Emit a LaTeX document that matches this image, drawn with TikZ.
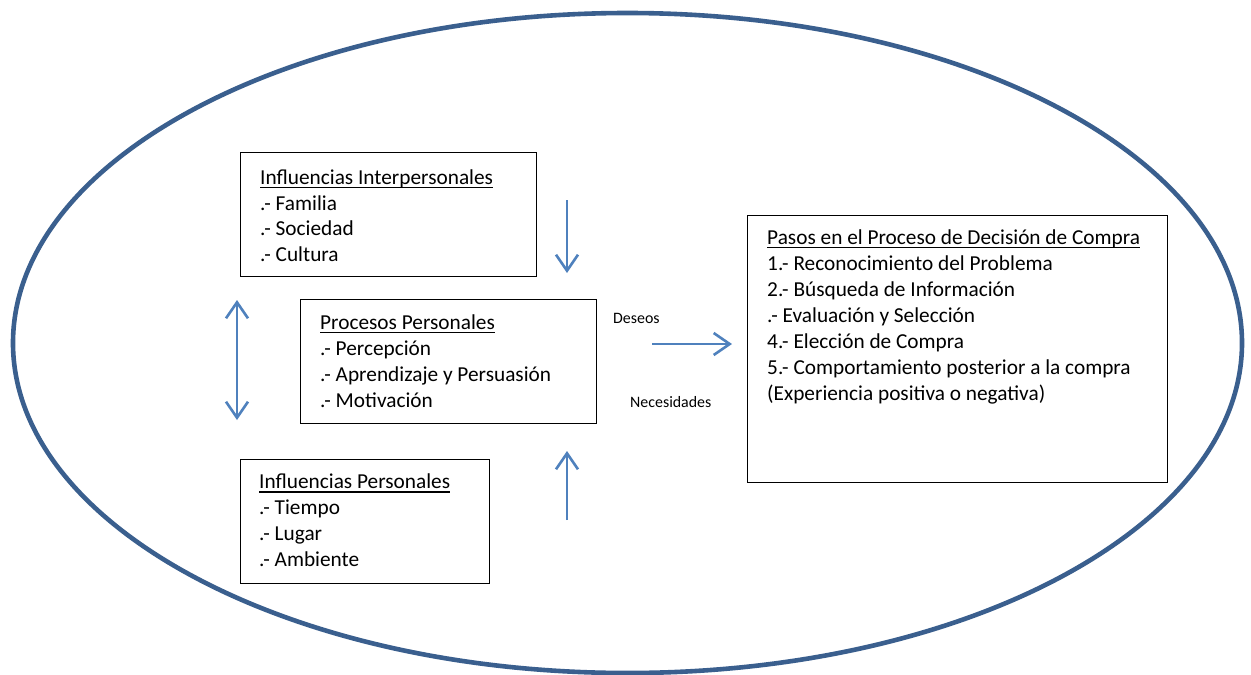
\documentclass[tikz,border=0pt]{standalone}
\usepackage{fontspec}
\setmainfont{Carlito}
\usetikzlibrary{arrows.meta,shapes.geometric}
\definecolor{ellblue}{HTML}{3A5F8E}
\definecolor{arrblue}{HTML}{4F81BD}
\begin{document}
\begin{tikzpicture}[x=1pt,y=-1pt,
  box/.style={draw=black,line width=0.9pt,inner sep=0pt,anchor=north west},
  txt/.style={anchor=base west,inner sep=0pt,font=\fontsize{21.3}{25}\selectfont},
  small/.style={anchor=base west,inner sep=0pt,font=\fontsize{15.9}{19}\selectfont},
  ul/.style={line width=1.3pt},
  arr/.style={draw=arrblue,line width=2.6pt,-{Straight Barb[length=16pt,width=22pt]}},
  darr/.style={draw=arrblue,line width=2.6pt,{Straight Barb[length=16pt,width=22pt]}-{Straight Barb[length=16pt,width=22pt]}}]
\useasboundingbox (0,0) rectangle (1251,675);
\fill[white] (0,0) rectangle (1251,675);
% outer ellipse
\node[draw=ellblue,line width=4.6pt,ellipse,inner sep=0pt,minimum width=1229pt,minimum height=660pt] (outer) at (627.5,343) {};
% boxes
\node[box,minimum width=296pt,minimum height=124pt] (inter) at (240,152) {};
\node[box,minimum width=296pt,minimum height=124pt] (proc) at (300,299) {};
\node[box,minimum width=249pt,minimum height=124pt] (pers) at (240,459) {};
\node[box,minimum width=420pt,minimum height=267pt] (pasos) at (747,215) {};
% Influencias Interpersonales
\node[txt] (i0) at (260,184) {Influencias Interpersonales};
\node[txt] (i1) at (260,210) {.- Familia};
\node[txt] (i2) at (260,235.5) {.- Sociedad};
\node[txt] (i3) at (260,261) {.- Cultura};
% Procesos Personales
\node[txt] (p0) at (320,329) {Procesos Personales};
\node[txt] (p1) at (320,355) {.- Percepción};
\node[txt] (p2) at (320,381) {.- Aprendizaje y Persuasión};
\node[txt] (p3) at (320,407) {.- Motivación};
% Influencias Personales
\node[txt] (q0) at (259,488.5) {Influencias Personales};
\node[txt] (q1) at (259,514) {.- Tiempo};
\node[txt] (q2) at (259,540) {.- Lugar};
\node[txt] (q3) at (259,566) {.- Ambiente};
% Pasos
\node[txt] (s0) at (767,244) {Pasos en el Proceso de Decisión de Compra};
\node[txt] (s1) at (767,270) {1.- Reconocimiento del Problema};
\node[txt] (s2) at (767,296) {2.- Búsqueda de Información};
\node[txt] (s3) at (767,322) {.- Evaluación y Selección};
\node[txt] (s4) at (767,348) {4.- Elección de Compra};
\node[txt] (s5) at (767,374) {5.- Comportamiento posterior a la compra};
\node[txt] (s6) at (767,400) {(Experiencia positiva o negativa)};
% underlines
\foreach \n in {i0,p0,q0,s0}
  \draw[ul] ([yshift=-3.4pt]\n.base west) -- ([yshift=-3.4pt]\n.base east);
% small labels
\node[small] (des) at (613,323) {Deseos};
\node[small] (nec) at (630,407) {Necesidades};
% arrows
\coordinate (a1) at (567,200);
\coordinate (a2) at (567,273);
\coordinate (b1) at (567,520);
\coordinate (b2) at (567,451);
\coordinate (c1) at (237,300);
\coordinate (c2) at (237,420);
\coordinate (e1) at (652,344);
\coordinate (e2) at (732,344);
\draw[arr] (a1) -- (a2);
\draw[arr] (b1) -- (b2);
\draw[darr] (c1) -- (c2);
\draw[arr] (e1) -- (e2);
\end{tikzpicture}
\end{document}
